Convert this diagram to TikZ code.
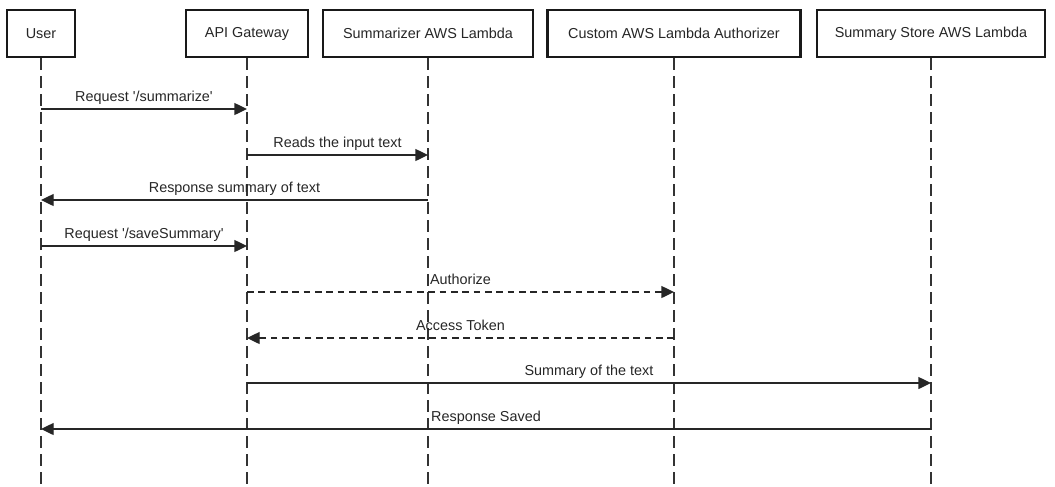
\documentclass[tikz,border=0pt]{standalone}
\usepackage{fontspec}
\setmainfont{Liberation Sans}
\usetikzlibrary{arrows.meta}
\begin{document}
\begin{tikzpicture}[x=0.75pt,y=-0.75pt,
  font=\fontsize{10.8pt}{13pt}\selectfont,
  actor/.style={draw=black!90,line width=2pt,fill=white,minimum height=47*0.75pt,inner sep=0pt,text=black!85},
  lifeline/.style={draw=black!80,line width=1.1pt,dash pattern=on 9pt off 4.5pt},
  msg/.style={draw=black!85,line width=1pt,-{Triangle[length=9.5pt,width=9pt]}},
  dmsg/.style={msg,dash pattern=on 5pt off 3.5pt},
  lbl/.style={anchor=base,inner sep=0pt,text=black!85}]
\useasboundingbox (0,0) rectangle (1055,486);
% headers
\node[actor,minimum width=68*0.75pt] (user) at (41,33.5) {User};
\node[actor,minimum width=122*0.75pt] (api) at (247,33.5) {API Gateway};
\node[actor,minimum width=210*0.75pt] (sum) at (428,33.5) {Summarizer AWS Lambda};
\node[actor,minimum width=253*0.75pt] (auth) at (674,33.5) {Custom AWS Lambda Authorizer};
\node[actor,minimum width=228*0.75pt] (store) at (931,33.5) {Summary Store AWS Lambda};
% lifeline ends
\coordinate (userE) at (41,486);
\coordinate (apiE) at (247,486);
\coordinate (sumE) at (428,486);
\coordinate (authE) at (674,486);
\coordinate (storeE) at (931,486);
\draw[lifeline] (user.south) -- (userE);
\draw[lifeline] (api.south) -- (apiE);
\draw[lifeline] (sum.south) -- (sumE);
\draw[lifeline] (auth.south) -- (authE);
\draw[lifeline] (store.south) -- (storeE);
% message anchor points
\coordinate (u1) at (41,109);  \coordinate (a1) at (247,109);
\coordinate (a2) at (247,155); \coordinate (s2) at (428,155);
\coordinate (s3) at (428,200); \coordinate (u3) at (41,200);
\coordinate (u4) at (41,246);  \coordinate (a4) at (247,246);
\coordinate (a5) at (247,292); \coordinate (z5) at (674,292);
\coordinate (z6) at (674,338); \coordinate (a6) at (247,338);
\coordinate (a7) at (247,383); \coordinate (t7) at (931,383);
\coordinate (t8) at (931,429); \coordinate (u8) at (41,429);
% messages
\draw[msg] (u1) -- (a1) node[lbl,midway,yshift=5.5pt] {Request \textquotesingle/summarize\textquotesingle};
\draw[msg] (a2) -- (s2) node[lbl,midway,yshift=5.5pt] {Reads the input text};
\draw[msg] (s3) -- (u3) node[lbl,midway,yshift=5.5pt] {Response summary of text};
\draw[msg] (u4) -- (a4) node[lbl,midway,yshift=5.5pt] {Request \textquotesingle/saveSummary\textquotesingle};
\draw[dmsg] (a5) -- (z5) node[lbl,midway,yshift=5.5pt] {Authorize};
\draw[dmsg] (z6) -- (a6) node[lbl,midway,yshift=5.5pt] {Access Token};
\draw[msg] (a7) -- (t7) node[lbl,midway,yshift=5.5pt] {Summary of the text};
\draw[msg] (t8) -- (u8) node[lbl,midway,yshift=5.5pt] {Response Saved};
\end{tikzpicture}
\end{document}
